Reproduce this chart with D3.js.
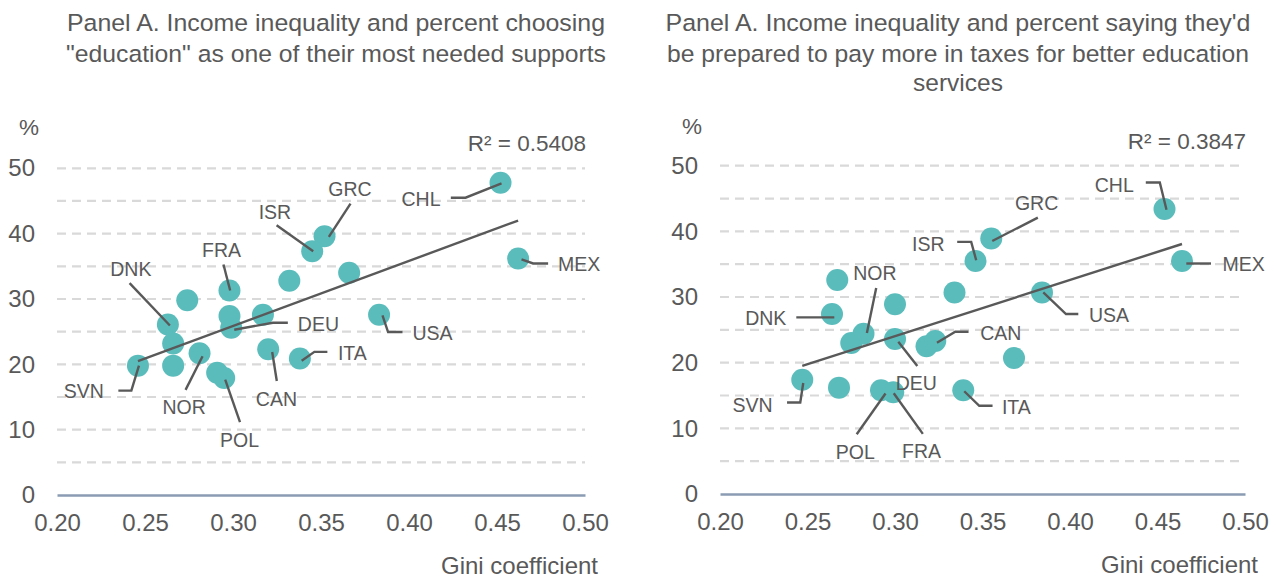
<!DOCTYPE html>
<html><head><meta charset="utf-8">
<script src="https://cdn.jsdelivr.net/npm/d3@7"></script>
<style>
body{margin:0;background:#fff;}
svg text{font-family:"Liberation Sans",Arial,sans-serif;fill:#595959;}
</style>
</head><body>
<svg id="chart" width="1276" height="580"></svg>
<script>
// ---------- DATA ----------
const titleLinesA = ["Panel A. Income inequality and percent choosing", "\"education\" as one of their most needed supports"];
const titleLinesB = ["Panel A.  Income inequality and percent saying they'd", "be prepared to pay more in taxes for better education", "services"];
const xTicks = [0.20, 0.25, 0.30, 0.35, 0.40, 0.45, 0.50];
const yTicks = [0, 10, 20, 30, 40, 50];
const yGrid = [5, 10, 15, 20, 25, 30, 35, 40, 45, 50];
const xTitle = "Gini coefficient";
const yUnit = "%";
const r2Labels = ["R\u00B2 = 0.5408", "R\u00B2 = 0.3847"];

const namesA  = ["","FRA","","","DNK","","","DEU","","NOR","SVN","","","POL","CAN","ITA","GRC","ISR","CHL","MEX","USA"];
const giniA   = [0.274,0.298,0.332,0.366,0.263,0.298,0.317,0.299,0.266,0.281,0.246,0.266,0.291,0.295,0.320,0.338,0.352,0.345,0.452,0.462,0.383];
const valuesA = [29.8,31.3,32.8,34.0,26.1,27.4,27.6,25.6,23.2,21.7,19.8,19.8,18.7,17.9,22.3,20.9,39.6,37.3,47.8,36.2,27.6];

const namesB  = ["","","ISR","","DNK","NOR","","DEU","","CAN","","SVN","","POL","FRA","ITA","GRC","CHL","MEX","USA"];
const giniB   = [0.267,0.334,0.346,0.300,0.264,0.282,0.275,0.300,0.318,0.323,0.368,0.247,0.268,0.292,0.299,0.339,0.355,0.454,0.464,0.384];
const valuesB = [32.6,30.7,35.5,28.9,27.4,24.4,23.0,23.6,22.5,23.3,20.7,17.4,16.2,15.8,15.5,15.8,38.9,43.4,35.5,30.7];

// ---------- LAYOUT (label leader lines, pixel offsets from point) ----------
const layoutA = {
  SVN:{path:[[1,0],[-6.6,25],[-19.6,25]],text:[-34,26],anchor:"end"},
  DNK:{path:[[2,1],[-38.3,-41.3]],text:[-37,-55.7],anchor:"middle"},
  NOR:{path:[[3,3],[-14,36.7]],text:[-15.5,54.4],anchor:"middle"},
  FRA:{path:[[0.7,0],[-6,-26]],text:[-8,-40],anchor:"middle"},
  DEU:{path:[[3,2],[41.6,-5],[56.6,-5]],text:[66.6,-4],anchor:"start"},
  POL:{path:[[1,1.6],[15.8,44]],text:[15.4,62.3],anchor:"middle"},
  CAN:{path:[[4,2.7],[8.6,31.7]],text:[8.2,50.3],anchor:"middle"},
  ITA:{path:[[1.8,2.4],[14.5,-6.6],[27.5,-6.6]],text:[38,-5],anchor:"start"},
  ISR:{path:[[1,0],[-35.6,-26]],text:[-37.3,-39.3],anchor:"middle"},
  GRC:{path:[[4.3,0.7],[26,-32.7]],text:[25.5,-46.7],anchor:"middle"},
  USA:{path:[[3.4,0.7],[9,17.4],[23.4,17.4]],text:[33.4,19],anchor:"start"},
  CHL:{path:[[1,0.6],[-35,15],[-49.7,15]],text:[-60,16.3],anchor:"end"},
  MEX:{path:[[3.4,1],[15,5],[30,5]],text:[40,5.7],anchor:"start"}
};
const layoutB = {
  SVN:{path:[[1,3.3],[-2,22.7],[-15.2,22.7]],text:[-29.7,25],anchor:"end"},
  DNK:{path:[[2.3,3.3],[-35.7,3.3]],text:[-45.7,4.3],anchor:"end"},
  NOR:{path:[[3.4,-0.7],[12.7,-45.7]],text:[11.4,-60.7],anchor:"middle"},
  POL:{path:[[4.5,3.3],[-24.3,44]],text:[-25.7,61.7],anchor:"middle"},
  FRA:{path:[[0.5,1],[29.6,41.7]],text:[28.3,59.4],anchor:"middle"},
  DEU:{path:[[3.3,2.7],[22.3,27]],text:[21.3,43.7],anchor:"middle"},
  CAN:{path:[[1.7,1.7],[20,-9.3],[33.3,-9.3]],text:[45,-7.7],anchor:"start"},
  ITA:{path:[[1,1],[16,15.5],[29.3,15.5]],text:[38.7,16.7],anchor:"start"},
  ISR:{path:[[0.7,-0.7],[-4.3,-19],[-18.3,-19]],text:[-31,-16.7],anchor:"end"},
  GRC:{path:[[1,2.4],[46.6,-21]],text:[45.3,-35],anchor:"middle"},
  USA:{path:[[1.3,0],[24,21.6],[36.3,21.6]],text:[47,22.3],anchor:"start"},
  CHL:{path:[[2,0.7],[-4.7,-26.6],[-18.7,-26.6]],text:[-30.7,-24.3],anchor:"end"},
  MEX:{path:[[4.3,2.6],[29,2.6]],text:[40.6,3.3],anchor:"start"}
};

const TEXT = "#595959", DOT = "#5bbcbc", GRID = "#d9d9d9", AXIS = "#8a9bb3";
const svg = d3.select("#chart");

function drawTitle(lines, cx, widths){
  const base = [30.5, 62, 90.5];
  lines.forEach((t,i)=>{
    const el = svg.append("text").attr("x",cx).attr("y",base[i])
      .attr("text-anchor","middle").style("font-size","24.5px").text(t);
    if (widths[i]) el.attr("textLength",widths[i]).attr("lengthAdjust","spacingAndGlyphs");
  });
}
drawTitle(titleLinesA, 336, [538, 540]);
drawTitle(titleLinesB, 958, [585, 582, 0]);

function panel(cfg){
  const {names, gini, values, xr, yr, layout, r2} = cfg;
  const x = d3.scaleLinear().domain([0.2,0.5]).range(xr);
  const y = d3.scaleLinear().domain([0,50]).range(yr);
  const g = svg.append("g");

  // gridlines
  g.append("g").selectAll("line").data(yGrid).join("line")
    .attr("x1",xr[0]).attr("x2",xr[1]).attr("y1",d=>y(d)).attr("y2",d=>y(d))
    .attr("stroke",GRID).attr("stroke-width",2.2).attr("stroke-dasharray","9,6");

  // y axis labels
  const ya = g.append("g").attr("transform",`translate(${xr[0]},0)`)
    .call(d3.axisLeft(y).tickValues(yTicks).tickSize(0).tickPadding(22).tickFormat(d3.format("d")));
  ya.select(".domain").remove();
  ya.selectAll("text").style("font-size","24px").attr("fill",TEXT).style("font-family",null);

  // x axis (zero line)
  const xa = g.append("g").attr("transform",`translate(0,${y(0)})`)
    .call(d3.axisBottom(x).tickValues(xTicks).tickSize(0).tickSizeOuter(0).tickPadding(19).tickFormat(d3.format(".2f")));
  xa.select(".domain").attr("stroke",AXIS).attr("stroke-width",2.6);
  xa.selectAll("text").style("font-size","24px").attr("fill",TEXT).style("font-family",null);

  // axis titles
  g.append("text").attr("x",xr[1]+13).attr("y",y(0)+71).attr("dy","0.35em").attr("text-anchor","end")
    .style("font-size","24px").text(xTitle);
  g.append("text").attr("x",xr[0]-18).attr("y",y(0)-368).attr("dy","0.35em").attr("text-anchor","end")
    .style("font-size","22.5px").text(yUnit);

  // points
  const pts = names.map((n,i)=>({n, gx:gini[i], v:values[i]}));
  g.append("g").selectAll("circle").data(pts).join("circle")
    .attr("cx",d=>x(d.gx)).attr("cy",d=>y(d.v)).attr("r",11).attr("fill",DOT);

  // linear trend line (least squares)
  const mx = d3.mean(gini), my = d3.mean(values);
  const sxy = d3.sum(gini,(gv,i)=>(gv-mx)*(values[i]-my));
  const sxx = d3.sum(gini,gv=>(gv-mx)*(gv-mx));
  const b = sxy/sxx, a = my - b*mx;
  const [gmin,gmax] = d3.extent(gini);
  g.append("line").attr("x1",x(gmin)).attr("y1",y(a+b*gmin)).attr("x2",x(gmax)).attr("y2",y(a+b*gmax))
    .attr("stroke",TEXT).attr("stroke-width",2.4);

  // R² label
  g.append("text").attr("x",xr[1]+1).attr("y",y(50)-25).attr("dy","0.35em").attr("text-anchor","end")
    .style("font-size","22.5px").text(r2);

  // labels with leader lines
  const line = d3.line();
  pts.filter(d=>d.n && layout[d.n]).forEach(d=>{
    const L = layout[d.n], px = x(d.gx), py = y(d.v);
    g.append("path").attr("d",line(L.path.map(p=>[px+p[0],py+p[1]])))
      .attr("fill","none").attr("stroke",TEXT).attr("stroke-width",2.4);
    g.append("text").attr("x",px+L.text[0]).attr("y",py+L.text[1]).attr("dy","0.35em")
      .attr("text-anchor",L.anchor).style("font-size","19.5px").text(d.n);
  });
}

panel({names:namesA, gini:giniA, values:valuesA, xr:[57,585], yr:[495,168.3], layout:layoutA, r2:r2Labels[0]});
panel({names:namesB, gini:giniB, values:valuesB, xr:[720,1245], yr:[494,165.7], layout:layoutB, r2:r2Labels[1]});
</script>
</body></html>
